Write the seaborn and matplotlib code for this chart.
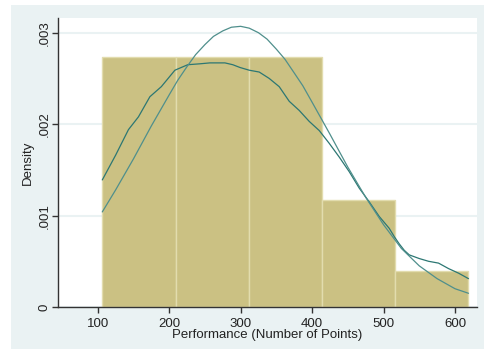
import pandas as pd
import seaborn as sns
import matplotlib.pyplot as plt
from matplotlib.patches import Rectangle

# histogram bins and counts per bin
bin_edges = [106.4, 208.9, 311.4, 413.9, 516.4, 618.9]
counts = [7, 7, 7, 3, 1]

# kernel density curve
kd_x = [106.4, 125, 143, 157, 173, 189, 208, 226, 243, 257, 278, 289, 299, 312,
        326, 340, 354, 368, 382, 396, 410, 424, 438, 452, 466, 480, 494, 508,
        515, 522, 529, 536, 550, 563, 577, 591, 605, 618.9]
kd_y = [0.00139, 0.00166, 0.00194, 0.00208, 0.00230, 0.00241, 0.00259, 0.00265,
        0.00266, 0.00267, 0.00267, 0.00265, 0.00262, 0.00259, 0.00257, 0.00250,
        0.00241, 0.00225, 0.00215, 0.00203, 0.00193, 0.00179, 0.00164, 0.00148,
        0.00130, 0.00115, 0.00099, 0.00086, 0.00077, 0.00069, 0.00062, 0.00057,
        0.00053, 0.00050, 0.00048, 0.00042, 0.00037, 0.00031]

# normal density curve
norm_x = [106.4, 125, 150, 175, 200, 212, 225, 237, 250, 262, 275, 287, 300,
          312, 325, 337, 350, 362, 375, 387, 400, 425, 450, 475, 500, 525, 550,
          575, 600, 618.9]
norm_y = [0.00104, 0.00128, 0.00162, 0.00198, 0.00232, 0.00248, 0.00263, 0.00276,
          0.00287, 0.00296, 0.00302, 0.00306, 0.00307, 0.00305, 0.00300, 0.00293,
          0.00282, 0.00271, 0.00256, 0.00242, 0.00224, 0.00189, 0.00153, 0.00120,
          0.00090, 0.00064, 0.00045, 0.00031, 0.00020, 0.00015]

xticks = [100, 200, 300, 400, 500, 600]
yticks = [0, 0.001, 0.002, 0.003]
ytick_labels = ['0', '.001', '.002', '.003']

sns.set_style('white')
plt.rcParams['font.family'] = ['Liberation Sans', 'DejaVu Sans']

fig = plt.figure(figsize=(4.84, 3.49), dpi=100, facecolor='white')
# stata-like graph region, kept behind the axes
fig.patches.append(Rectangle((11 / 484, 0), 1, 1 - 5 / 349, transform=fig.transFigure,
                             facecolor='#EAF2F3', edgecolor='none', zorder=-10))
ax = fig.add_axes([58 / 484, 1 - 307 / 349, 419 / 484, 289 / 349])
ax.set_facecolor('white')

centers = [(a + b) / 2 for a, b in zip(bin_edges[:-1], bin_edges[1:])]
df = pd.DataFrame({'perf': centers, 'n': counts})
sns.histplot(data=df, x='perf', weights='n', bins=bin_edges, stat='density',
             color='#CBC183', alpha=1, edgecolor='#E2DCAE', linewidth=1, ax=ax, zorder=2)

sns.lineplot(x=kd_x, y=kd_y, color='#2c7773', linewidth=0.9, ax=ax, zorder=3)
sns.lineplot(x=norm_x, y=norm_y, color='#4f8f8c', linewidth=0.9, ax=ax, zorder=3)

ax.yaxis.grid(True, color='#EAF2F3', linewidth=1.5)
ax.set_axisbelow(True)

ax.set_xlim(44.4, 630.8)
ax.set_ylim(0, 0.003161)
ax.set_xticks(xticks)
ax.set_yticks(yticks)
ax.set_yticklabels(ytick_labels, rotation=90, va='center')

for s in ['top', 'right']:
    ax.spines[s].set_visible(False)
for s in ['left', 'bottom']:
    ax.spines[s].set_color('#333333')
    ax.spines[s].set_linewidth(1)

ax.tick_params(bottom=True, left=True, direction='out', length=4, width=1,
               color='#333333', labelsize=9.5, pad=4, labelcolor='#222222')
ax.tick_params(axis='y', pad=1.5)
ax.set_xlabel('Performance (Number of Points)', fontsize=9.5, labelpad=-1, color='#222222')
ax.set_ylabel('Density', fontsize=9.5, labelpad=3, color='#222222')

fig.savefig('out.png', dpi=100, facecolor=fig.get_facecolor())
